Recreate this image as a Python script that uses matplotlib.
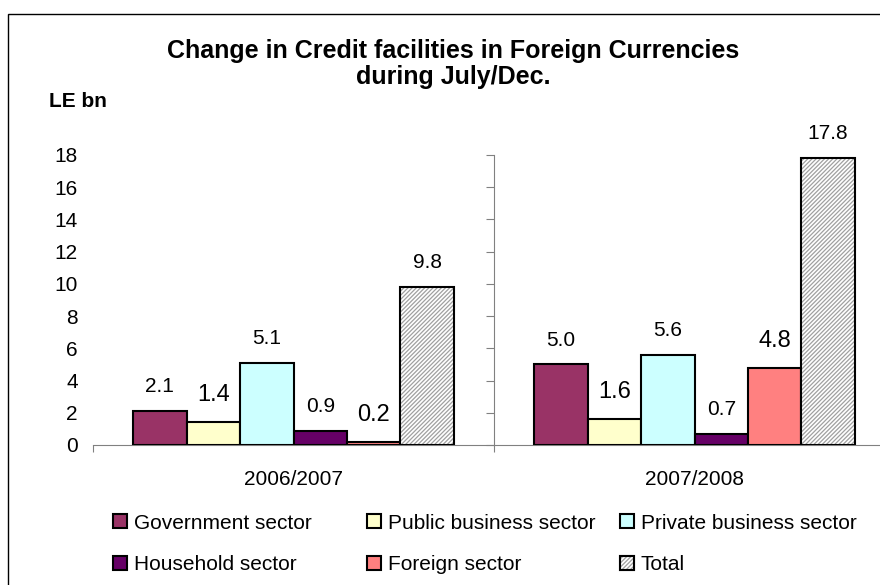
import matplotlib
matplotlib.use("Agg")
import matplotlib.pyplot as plt
from matplotlib.patches import Rectangle
from matplotlib.legend_handler import HandlerTuple

plt.rcParams['font.family'] = ['Liberation Sans', 'DejaVu Sans']
plt.rcParams['hatch.linewidth'] = 0.9

# change in LE bn, July/Dec.
periods = ['2006/2007', '2007/2008']
government = [2.1, 5.0]
public_business = [1.4, 1.6]
private_business = [5.1, 5.6]
household = [0.9, 0.7]
foreign = [0.2, 4.8]
total = [9.8, 17.8]

series = [
    ('Government sector', government, '#993366', 15),
    ('Public business sector', public_business, '#FFFFCC', 17),
    ('Private business sector', private_business, '#CCFFFF', 15),
    ('Household sector', household, '#660066', 15),
    ('Foreign sector', foreign, '#FF8080', 17),
]

W, H = 880, 585
fig = plt.figure(figsize=(W / 100, H / 100), dpi=100)
ax = fig.add_axes([93 / W, (H - 445) / H, 802 / W, 290 / H])

n = len(series) + 1
width = 0.8 / n
grey = '#808080'


def bar_x(j):
    return [i + 0.1 + (j + 0.5) * width for i in range(len(periods))]


handles = []
for j, (name, vals, color, fs) in enumerate(series):
    bars = ax.bar(bar_x(j), vals, width, color=color, edgecolor='black', linewidth=1.5, zorder=3)
    handles.append((bars[0], name))
    for b, v in zip(bars, vals):
        ax.annotate(f'{v:.1f}', (b.get_x() + b.get_width() / 2, v),
                    xytext=(0, 17.5 if fs == 15 else 19.5), textcoords='offset points',
                    ha='center', va='center', fontsize=fs)

# total bars: grey hatch underneath, black outline on top
hatch_bars = ax.bar(bar_x(n - 1), total, width, color='white', edgecolor='#a0a0a0',
                    hatch='////////', linewidth=0, zorder=3)
edge_bars = ax.bar(bar_x(n - 1), total, width, fill=False, edgecolor='black', linewidth=1.5, zorder=4)
handles.append(((hatch_bars[0], edge_bars[0]), 'Total'))
for b, v in zip(edge_bars, total):
    ax.annotate(f'{v:.1f}', (b.get_x() + b.get_width() / 2, v),
                xytext=(0, 17.5), textcoords='offset points',
                ha='center', va='center', fontsize=15)

ax.set_xlim(0, 2)
ax.set_ylim(0, 18)

# value axis sits between the two periods, labels stay on the left
for s in ('top', 'right'):
    ax.spines[s].set_visible(False)
ax.spines['left'].set_position(('data', 1))
ax.spines['left'].set_color(grey)
ax.spines['bottom'].set_color(grey)
ax.set_yticks(range(0, 19, 2))
ax.tick_params(axis='y', direction='out', length=6, color=grey, labelleft=False)

sec = ax.secondary_yaxis('left')
sec.set_yticks(range(0, 19, 2))
sec.spines['left'].set_visible(False)
sec.tick_params(axis='y', length=0, pad=11, labelsize=15)

ax.set_xticks([0, 1, 2])
ax.set_xticklabels([])
ax.tick_params(axis='x', which='major', direction='out', length=5, color=grey)
ax.set_xticks([0.5, 1.5], minor=True)
ax.set_xticklabels(periods, minor=True)
ax.tick_params(axis='x', which='minor', length=0, pad=18, labelsize=15)

fig.text(453 / W, 1 - 51 / H, 'Change in Credit facilities in Foreign Currencies',
         ha='center', va='center', fontsize=18, fontweight='bold')
fig.text(453 / W, 1 - 77 / H, 'during July/Dec.',
         ha='center', va='center', fontsize=18, fontweight='bold')
fig.text(49 / W, 1 - 101 / H, 'LE bn', ha='left', va='center', fontsize=15, fontweight='bold')

# legend laid out as three columns of two rows
col_x = [113, 367, 620]
for c in range(3):
    hs = [handles[c], handles[c + 3]]
    leg = fig.legend([h for h, _ in hs], [lab for _, lab in hs],
                     loc='center left', bbox_to_anchor=(col_x[c] / W, 1 - 544 / H),
                     frameon=False, fontsize=15, borderpad=0, borderaxespad=0,
                     handlelength=0.65, handleheight=0.65, handletextpad=0.35,
                     labelspacing=1.1,
                     handler_map={tuple: HandlerTuple(ndivide=1)})
    for p in leg.get_patches():
        p.set_linewidth(1.5)

fig.add_artist(Rectangle((8 / W, -0.1), 1.2, 1 - 14 / H + 0.1, transform=fig.transFigure,
                         fill=False, edgecolor='black', linewidth=1.0))

fig.savefig('out.png', dpi=100)
